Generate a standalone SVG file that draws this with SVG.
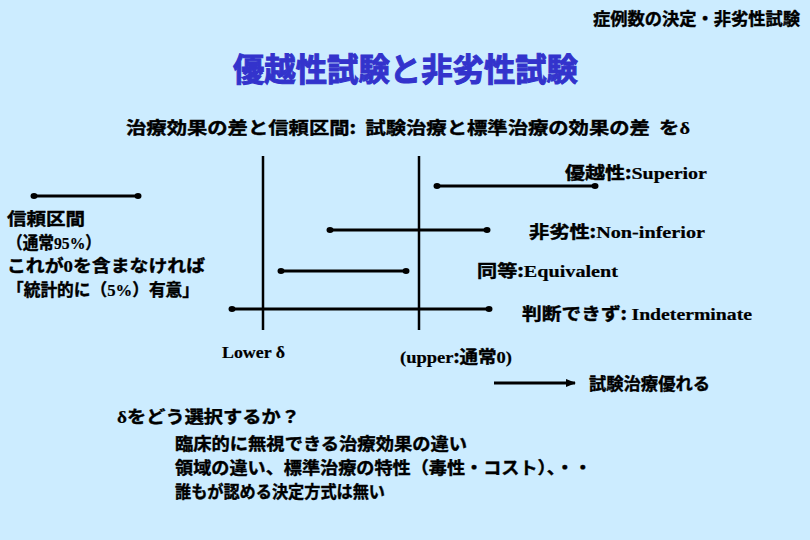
<svg xmlns="http://www.w3.org/2000/svg" width="810" height="540" viewBox="0 0 810 540">
<defs>
<style>
.jp{font-family:"Noto Sans CJK JP","Noto Sans CJK SC",sans-serif;font-weight:700;font-size:17px;fill:#000;stroke:#000;stroke-width:0.4;white-space:pre}
.lat{font-family:"Liberation Serif","Times New Roman",serif;font-weight:700;stroke-width:0.2}
.title{font-size:32px;fill:#3333cc;stroke:#3333cc;stroke-width:1}
.iv{stroke:#000;stroke-width:3;fill:none;marker-start:url(#dot);marker-end:url(#dot)}
.ax{stroke:#000;stroke-width:2.5}
</style>
<marker id="dot" viewBox="0 0 8 6" refX="4" refY="3" markerWidth="8" markerHeight="6" markerUnits="userSpaceOnUse"><ellipse cx="4" cy="3" rx="3.5" ry="3" fill="#000"/></marker>
<marker id="arrow" viewBox="0 0 10 8" refX="9" refY="4" markerWidth="10" markerHeight="8" markerUnits="userSpaceOnUse" orient="auto"><path d="M0,0 L10,4 L0,8 z" fill="#000"/></marker>
</defs>
<rect width="810" height="540" fill="#ccecff"/>

<g id="header">
<text class="jp" x="593" y="25" textLength="207" lengthAdjust="spacingAndGlyphs">症例数の決定・非劣性試験</text>
</g>
<g id="title">
<text class="jp title" x="233" y="81" textLength="345" lengthAdjust="spacingAndGlyphs">優越性試験と非劣性試験</text>
</g>
<g id="subtitle">
<text class="jp" font-size="18" x="126" y="134" textLength="564" lengthAdjust="spacingAndGlyphs">治療効果の差と信頼区間:  試験治療と標準治療の効果の差  を<tspan class="lat">δ</tspan></text>
</g>

<g id="legend">
<line class="iv" x1="34" y1="196" x2="138" y2="196"/>
<text class="jp" font-size="18" x="7" y="224.5" textLength="78" lengthAdjust="spacingAndGlyphs">信頼区間</text>
<text class="jp" font-size="18" x="7" y="248.5" textLength="94" lengthAdjust="spacingAndGlyphs">（通常<tspan class="lat">95%</tspan>）</text>
<text class="jp" font-size="18" x="7" y="272" textLength="198" lengthAdjust="spacingAndGlyphs">これが<tspan class="lat">0</tspan>を含まなければ</text>
<text class="jp" font-size="18" x="7" y="296" textLength="192" lengthAdjust="spacingAndGlyphs">「統計的に（<tspan class="lat">5%</tspan>）有意」</text>
</g>

<g id="axes">
<line class="ax" x1="263" y1="156" x2="263" y2="330"/>
<line class="ax" x1="419" y1="156" x2="419" y2="330"/>
<text class="jp lat" font-size="15" x="222" y="358" textLength="63" lengthAdjust="spacingAndGlyphs">Lower δ</text>
<text class="jp" font-size="15" x="400" y="363" textLength="112" lengthAdjust="spacingAndGlyphs"><tspan class="lat">(upper</tspan>:通常<tspan class="lat">0)</tspan></text>
</g>

<g id="superior">
<line class="iv" x1="437" y1="186" x2="595" y2="186"/>
<text class="jp" x="565" y="179" textLength="142" lengthAdjust="spacingAndGlyphs">優越性:<tspan class="lat">Superior</tspan></text>
</g>
<g id="noninferior">
<line class="iv" x1="330" y1="230" x2="487" y2="230"/>
<text class="jp" x="529" y="237.5" textLength="176" lengthAdjust="spacingAndGlyphs">非劣性:<tspan class="lat">Non-inferior</tspan></text>
</g>
<g id="equivalent">
<line class="iv" x1="281" y1="271" x2="406" y2="271"/>
<text class="jp" x="477" y="276.5" textLength="141" lengthAdjust="spacingAndGlyphs">同等:<tspan class="lat">Equivalent</tspan></text>
</g>
<g id="indeterminate">
<line class="iv" x1="232" y1="309" x2="489" y2="309"/>
<text class="jp" x="522" y="320" textLength="230" lengthAdjust="spacingAndGlyphs">判断できず: <tspan class="lat">Indeterminate</tspan></text>
</g>

<g id="connectors">
<line x1="494" y1="383" x2="575" y2="383" stroke="#000" stroke-width="3" marker-end="url(#arrow)"/>
</g>
<g id="better">
<text class="jp" x="589" y="389.5" textLength="121" lengthAdjust="spacingAndGlyphs">試験治療優れる</text>
</g>

<g id="notes">
<text class="jp" x="117" y="423" textLength="183" lengthAdjust="spacingAndGlyphs"><tspan class="lat">δ</tspan>をどう選択するか？</text>
<text class="jp" x="175" y="450" textLength="292" lengthAdjust="spacingAndGlyphs">臨床的に無視できる治療効果の違い</text>
<text class="jp" x="175" y="474" textLength="417" lengthAdjust="spacingAndGlyphs">領域の違い、標準治療の特性（毒性・コスト）、・・</text>
<text class="jp" x="175" y="498" textLength="210" lengthAdjust="spacingAndGlyphs">誰もが認める決定方式は無い</text>
</g>
</svg>
